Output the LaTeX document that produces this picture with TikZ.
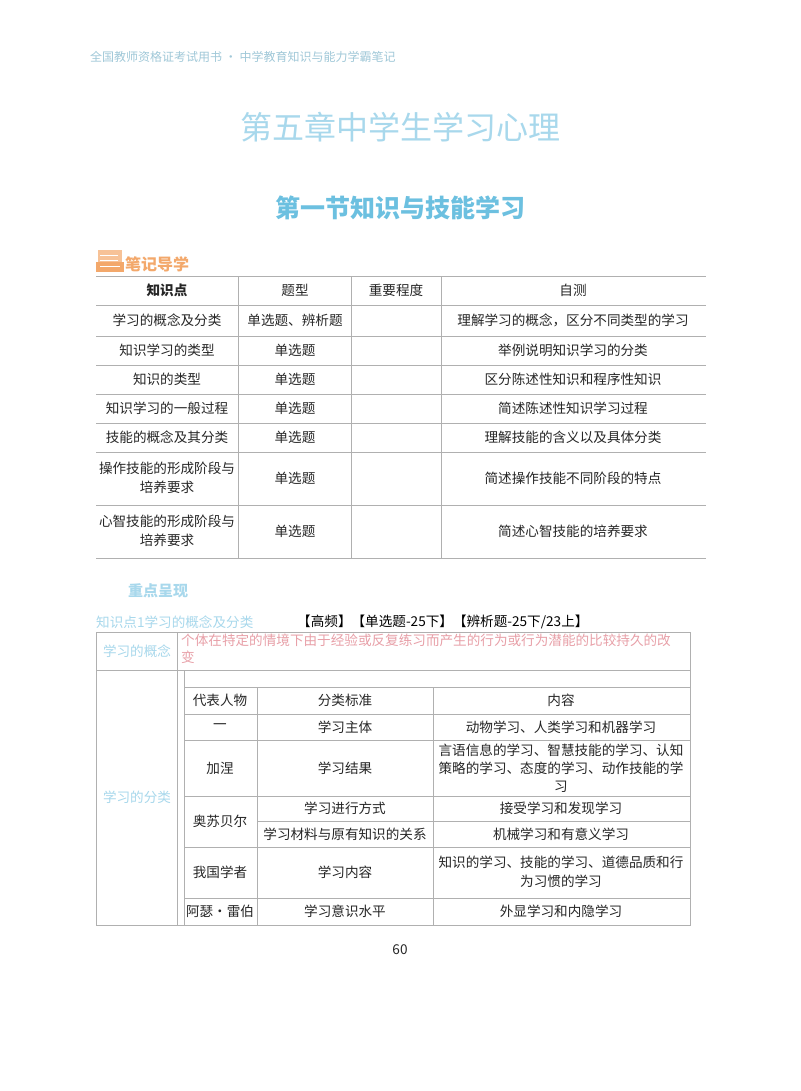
\documentclass[tikz,border=0pt]{standalone}
\usepackage{fontspec}
\setmainfont{Noto Sans CJK SC}
\definecolor{lblue}{HTML}{A8D8EC}
\definecolor{mblue}{HTML}{6CC0E0}
\definecolor{orng}{HTML}{F3A86B}
\definecolor{pinkt}{HTML}{E8A0A8}
\definecolor{gline}{HTML}{B0B0B0}
\definecolor{hdr}{HTML}{A0C8D8}
\begin{document}
\begin{tikzpicture}[x=1pt,y=-1pt,
  txt/.style={font=\fontsize{13.6}{16}\selectfont, text=black!85, align=center, inner sep=0},
  ln/.style={gline, line width=0.7pt}]
\useasboundingbox (0,0) rectangle (800,1091);
\fill[white] (0,0) rectangle (800,1091);
\node[anchor=west, text=hdr, font=\fontsize{12}{14}\selectfont, inner sep=0] (h) at (90,57) {全国教师资格证考试用书 • 中学教育知识与能力学霸笔记};
\node[text=lblue, font=\fontsize{32}{35}\selectfont] (t1) at (400,127) {第五章中学生学习心理};
\node[text=mblue, font=\fontsize{25}{28}\selectfont\bfseries] (t2) at (400,208) {第一节知识与技能学习};
% icon
\fill[orng] (96,262) rectangle (124,272);
\fill[orng!70] (98,250) rectangle (122,262);
\draw[white, line width=1pt] (100,255) -- (118,255) (100,260) -- (118,260) (100,266) -- (120,266);
\node[anchor=west, text=orng, font=\fontsize{16}{18}\selectfont\bfseries, inner sep=0] (nd) at (125,264) {笔记导学};
% table 1
\foreach \y in {276,305,336,365,394,423,452,505,558} \draw[ln] (96,\y) -- (706,\y);
\foreach \x in {238,351,441} \draw[ln] (\x,276) -- (\x,558);
\node[txt, font=\fontsize{13.6}{16}\selectfont\bfseries] (a0) at (167,290) {知识点};
\node[txt] (b0) at (295,290) {题型};
\node[txt] (c0) at (396,290) {重要程度};
\node[txt] (d0) at (573,290) {自测};
\node[txt] (a1) at (167,320) {学习的概念及分类};
\node[txt] (b1) at (295,320) {单选题、辨析题};
\node[txt] (d1) at (573,320) {理解学习的概念，区分不同类型的学习};
\node[txt] (a2) at (167,350) {知识学习的类型};
\node[txt] (b2) at (295,350) {单选题};
\node[txt] (d2) at (573,350) {举例说明知识学习的分类};
\node[txt] (a3) at (167,379) {知识的类型};
\node[txt] (b3) at (295,379) {单选题};
\node[txt] (d3) at (573,379) {区分陈述性知识和程序性知识};
\node[txt] (a4) at (167,408) {知识学习的一般过程};
\node[txt] (b4) at (295,408) {单选题};
\node[txt] (d4) at (573,408) {简述陈述性知识学习过程};
\node[txt] (a5) at (167,437) {技能的概念及其分类};
\node[txt] (b5) at (295,437) {单选题};
\node[txt] (d5) at (573,437) {理解技能的含义以及具体分类};
\node[txt, font=\fontsize{13.6}{19}\selectfont] (a6) at (167,478) {操作技能的形成阶段与\\培养要求};
\node[txt] (b6) at (295,478) {单选题};
\node[txt] (d6) at (573,478) {简述操作技能不同阶段的特点};
\node[txt, font=\fontsize{13.6}{19}\selectfont] (a7) at (167,531) {心智技能的形成阶段与\\培养要求};
\node[txt] (b7) at (295,531) {单选题};
\node[txt] (d7) at (573,531) {简述心智技能的培养要求};
% section 2
\node[anchor=west, text=lblue, font=\fontsize{15}{17}\selectfont\bfseries, inner sep=0] (zd) at (128,591) {重点呈现};
\node[anchor=west, text=lblue, font=\fontsize{13.6}{16}\selectfont, inner sep=0] (k1) at (96,622) {知识点1学习的概念及分类};
\node[anchor=west, text=black, font=\fontsize{13.6}{16}\selectfont, inner sep=0] (k2) at (297,622) {【高频】【单选题-25下】【辨析题-25下/23上】};
% table 2
\draw[ln] (96,632) rectangle (690,925);
\draw[ln] (96,670) -- (690,670);
\draw[ln] (177,632) -- (177,925);
\draw[ln] (184,670) -- (184,925);
\foreach \y in {687,714,740,796,847,898} \draw[ln] (184,\y) -- (690,\y);
\draw[ln] (257,821) -- (690,821);
\draw[ln] (257,687) -- (257,925);
\draw[ln] (433,687) -- (433,925);
\node[txt, text=lblue] (l1) at (137,651) {学习的概念};
\node[anchor=north west, text=pinkt, font=\fontsize{13.6}{17}\selectfont, align=left, inner sep=0] (l1t) at (181,634) {个体在特定的情境下由于经验或反复练习而产生的行为或行为潜能的比较持久的改\\变};
\node[txt, text=lblue] (l2) at (137,797) {学习的分类};
\node[txt] (r0a) at (220,700) {代表人物};
\node[txt] (r0b) at (345,700) {分类标准};
\node[txt] (r0c) at (561,700) {内容};
\node[txt] (r1a) at (220,727) {一};
\node[txt] (r1b) at (345,727) {学习主体};
\node[txt] (r1c) at (561,727) {动物学习、人类学习和机器学习};
\node[txt] (r2a) at (220,768) {加涅};
\node[txt] (r2b) at (345,768) {学习结果};
\node[txt, font=\fontsize{13.6}{18}\selectfont] (r2c) at (561,768) {言语信息的学习、智慧技能的学习、认知\\策略的学习、态度的学习、动作技能的学\\习};
\node[txt] (r3a) at (220,821) {奥苏贝尔};
\node[txt] (r3b) at (345,808) {学习进行方式};
\node[txt] (r3c) at (561,808) {接受学习和发现学习};
\node[txt] (r4b) at (345,834) {学习材料与原有知识的关系};
\node[txt] (r4c) at (561,834) {机械学习和有意义学习};
\node[txt] (r5a) at (220,872) {我国学者};
\node[txt] (r5b) at (345,872) {学习内容};
\node[txt, font=\fontsize{13.6}{19}\selectfont] (r5c) at (561,872) {知识的学习、技能的学习、道德品质和行\\为习惯的学习};
\node[txt] (r6a) at (220,911) {阿瑟·雷伯};
\node[txt] (r6b) at (345,911) {学习意识水平};
\node[txt] (r6c) at (561,911) {外显学习和内隐学习};
\node[txt] (pg) at (400,950) {60};
\end{tikzpicture}
\end{document}
